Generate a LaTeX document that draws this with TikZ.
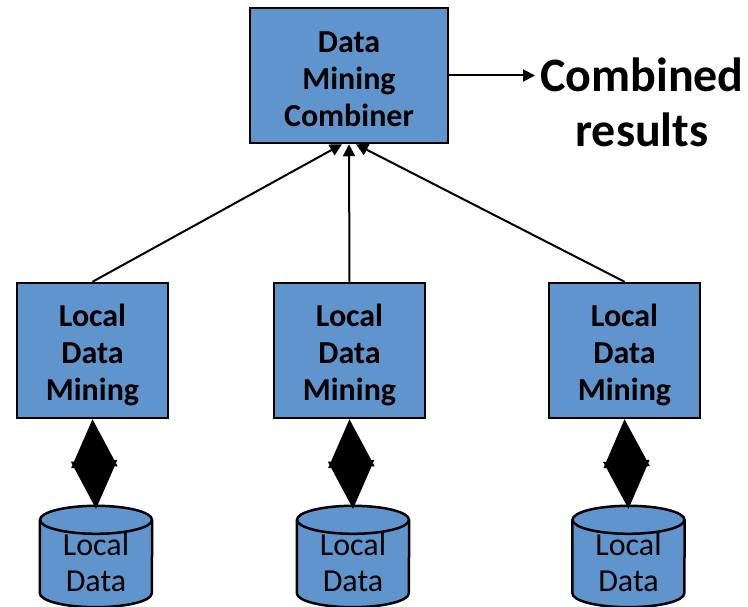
\documentclass[tikz,border=0pt]{standalone}
\usepackage{fontspec}
\setmainfont{Carlito}
\usetikzlibrary{arrows.meta,calc}
\definecolor{boxblue}{RGB}{96,148,204}
\tikzset{
  procbox/.style={draw=black, line width=2.5pt, fill=boxblue, minimum width=151pt,
    minimum height=135pt, align=center, font=\fontsize{32}{37}\selectfont\bfseries, inner sep=0pt},
  storebody/.style={minimum width=112pt, minimum height=101pt, inner sep=0pt, align=center,
    font=\fontsize{32}{36}\selectfont},
  feed/.style={line width=2pt, -{Triangle[length=12pt,width=12pt]}},
  link/.style={line width=2pt, {Triangle[length=48pt,width=46pt]}-{Triangle[length=48pt,width=46pt]}},
}
\newcommand{\drawstore}[1]{%
  \fill[boxblue] ($(#1.north west)+(0,-14pt)$) arc[start angle=180, end angle=360, x radius=56pt, y radius=14pt]
    -- ($(#1.south east)+(0,14pt)$) arc[start angle=0, end angle=-180, x radius=56pt, y radius=14pt] -- cycle;
  \filldraw[fill=boxblue, line width=2.5pt] ($(#1.north)+(0,-14pt)$) ellipse[x radius=56pt, y radius=14pt];
  \draw[line width=2.5pt] ($(#1.north west)+(0,-14pt)$) -- ($(#1.south west)+(0,14pt)$)
    arc[start angle=180, end angle=360, x radius=56pt, y radius=14pt] -- ($(#1.north east)+(0,-14pt)$);
}
\begin{document}
\begin{tikzpicture}[x=1pt, y=-1pt]
  \useasboundingbox (0,0) rectangle (748,607);

  % combiner and the three local miners
  \node[procbox, minimum width=198pt] (comb) at (349,75.5) {\strut\\[-35pt]Data\\Mining\\Combiner};
  \node[procbox] (l1) at (92.5,350.5) {\strut\\[-32pt]Local\\Data\\Mining};
  \node[procbox] (l2) at (349.5,350.5) {\strut\\[-32pt]Local\\Data\\Mining};
  \node[procbox] (l3) at (624.5,350.5) {\strut\\[-32pt]Local\\Data\\Mining};

  % data stores
  \node[storebody] (c1) at (96,556.5) {};
  \node[storebody] (c2) at (353,556.5) {};
  \node[storebody] (c3) at (628.5,556.5) {};
  \drawstore{c1}\drawstore{c2}\drawstore{c3}
  \node[storebody] at (c1) {\strut\\[-26pt]Local\\Data};
  \node[storebody] at (c2) {\strut\\[-26pt]Local\\Data};
  \node[storebody] at (c3) {\strut\\[-26pt]Local\\Data};

  % result label
  \node[font=\fontsize{48}{55}\selectfont\bfseries, align=center, anchor=west, inner sep=0pt] (res) at (540,102) {Combined\\results};

  % connectors
  \draw[feed] (l1.north) -- ([xshift=-7pt]comb.south);
  \draw[feed] (l2.north) -- (comb.south);
  \draw[feed] (l3.north) -- ([xshift=7pt]comb.south);
  \draw[feed] (comb.east) -- ([xshift=-5pt]comb.east -| res.west);
  \draw[link] (l1.south) -- ([yshift=-3pt]c1.north);
  \draw[link] (l2.south) -- ([yshift=-3pt]c2.north);
  \draw[link] (l3.south) -- ([yshift=-3pt]c3.north);
\end{tikzpicture}
\end{document}
